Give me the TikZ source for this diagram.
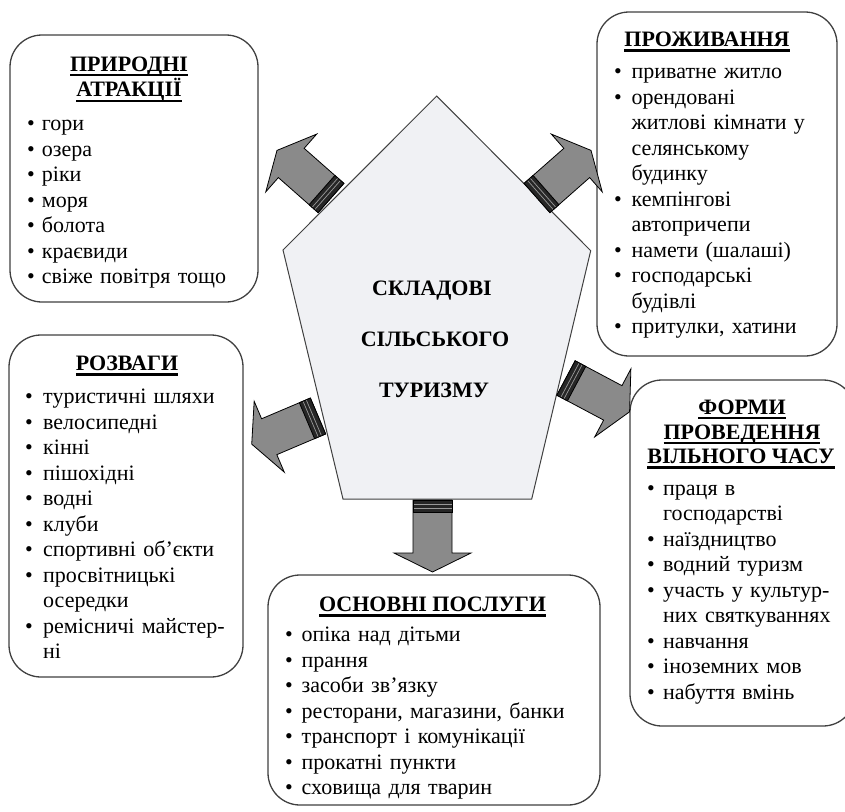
\documentclass[tikz,border=0pt]{standalone}
\usepackage{fontspec}
\setmainfont{Liberation Serif}
\newlength\itemind
\newcommand\bodyfont{\fontsize{22}{25.5}\selectfont}
\newcommand\ulh[1]{\setbox0=\hbox{#1}\rlap{\rule[-5pt]{\wd0}{2.2pt}}\box0}
\newcommand\nl{\hfil\break}
\newcommand\itm[1]{\par\hangindent=\itemind\hangafter=1\noindent\strut\makebox[\itemind][l]{\textbullet}#1}
\definecolor{pentfill}{HTML}{F0F1F4}
\definecolor{arrfill}{HTML}{8A8A8A}
\begin{document}
\begin{tikzpicture}[x=1pt,y=-1pt,
  box/.style={draw=black!75, line width=1.3pt, rounded corners=32pt, fill=white},
  head/.style={font=\bfseries\bodyfont, inner sep=0pt, anchor=base},
  ctext/.style={font=\bfseries\bodyfont, inner sep=0pt, anchor=base},
  listbox/.style={font=\bodyfont, inner sep=0pt, anchor=north west, text width=330pt},
  arrbody/.style={draw=black, line width=0.8pt, fill=arrfill, line join=miter},
  bandfill/.style={fill=black!85},
  bandline/.style={draw=black!40, line width=0.7pt}]
\useasboundingbox (0,0) rectangle (845,811);
% boxes
\draw[box] (10,35) rectangle (258,302);
\draw[box] (597,12) rectangle (837,356);
\draw[box] (9,335) rectangle (243,677);
\draw[box] (630,380) rectangle (855,726);
\draw[box] (268,575) rectangle (600,805);
% pentagon
\coordinate (pT) at (436.7,96);
\coordinate (pL) at (283,250);
\coordinate (pR) at (590.7,250.7);
\coordinate (pBL) at (343,499);
\coordinate (pBR) at (531.7,499);
\draw[draw=black!75, line width=1pt, fill=pentfill] (pT) -- (pR) -- (pBR) -- (pBL) -- (pL) -- cycle;
\node[ctext] (c1) at (432,295) {СКЛАДОВІ};
\node[ctext] (c2) at (435,346) {СІЛЬСЬКОГО};
\node[ctext] (c3) at (434,397.3) {ТУРИЗМУ};
% arrows
\coordinate (a1) at (331,198);
\coordinate (a2) at (537,198);
\coordinate (a3) at (318,416);
\coordinate (a4) at (566,378);
\coordinate (a5) at (432.5,500);
\foreach \c/\ang in {a1/138.6, a2/41.4, a3/203, a4/332, a5/270}{
  \begin{scope}[shift={(\c)}, rotate=\ang]
    \draw[arrbody] (0,-19.5) -- (53,-19.5) -- (53,-38.5) -- (72,0) -- (53,38.5) -- (53,19.5) -- (0,19.5) -- cycle;
    \fill[bandfill] (0,-19.5) rectangle (12,19.5);
    \draw[bandline] (4.5,-19.5) -- (4.5,19.5);
    \draw[bandline] (8,-19.5) -- (8,19.5);
    \draw[line width=0.8pt] (0,-19.5) rectangle (12,19.5);
  \end{scope}
}
% headings
\node[head] (h1a) at (129,71) {\ulh{ПРИРОДНІ}};
\node[head] (h1b) at (129,96.7) {\ulh{АТРАКЦІЇ}};
\node[head] (h2) at (707,46.5) {\ulh{ПРОЖИВАННЯ}};
\node[head] (h3) at (127,370.5) {\ulh{РОЗВАГИ}};
\node[head] (h4a) at (742,414) {\ulh{ФОРМИ}};
\node[head] (h4b) at (742,439.3) {\ulh{ПРОВЕДЕННЯ}};
\node[head] (h4c) at (741,463.5) {\ulh{ВІЛЬНОГО ЧАСУ}};
\node[head] (h5) at (432.5,611.5) {\ulh{ОСНОВНІ ПОСЛУГИ}};
% lists
\node[listbox] (l1) at (27,104.85) {\raggedright\setlength\itemind{14.7pt}%
\itm{гори}\itm{озера}\itm{ріки}\itm{моря}\itm{болота}\itm{краєвиди}\itm{свіже повітря тощо}\par};
\node[listbox] (l2) at (614,53.15) {\raggedright\setlength\itemind{17.5pt}%
\itm{приватне житло}\itm{орендовані\nl житлові кімнати у\nl селянському\nl будинку}\itm{кемпінгові\nl автопричепи}\itm{намети (шалаші)}\itm{господарські\nl будівлі}\itm{притулки, хатини}\par};
\node[listbox] (l3) at (25,378.15) {\raggedright\setlength\itemind{18pt}%
\itm{туристичні шляхи}\itm{велосипедні}\itm{кінні}\itm{пішохідні}\itm{водні}\itm{клуби}\itm{спортивні об’єкти}\itm{просвітницькі\nl осередки}\itm{ремісничі майстер-\nl ні}\par};
\node[listbox] (l4) at (647,469.5) {\raggedright\setlength\itemind{16pt}%
\itm{праця в\nl господарстві}\itm{наїздництво}\itm{водний туризм}\itm{участь у культур-\nl них святкуваннях}\itm{навчання}\itm{іноземних мов}\itm{набуття вмінь}\par};
\node[listbox] (l5) at (285,616.15) {\raggedright\setlength\itemind{16.5pt}%
\itm{опіка над дітьми}\itm{прання}\itm{засоби зв’язку}\itm{ресторани, магазини, банки}\itm{транспорт і комунікації}\itm{прокатні пункти}\itm{сховища для тварин}\par};
\end{tikzpicture}
\end{document}
